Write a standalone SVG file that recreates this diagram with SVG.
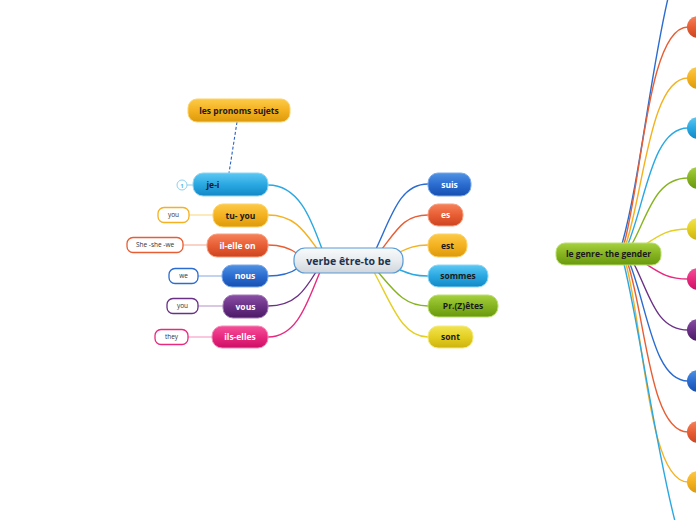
<svg xmlns="http://www.w3.org/2000/svg" width="696" height="520" viewBox="0 0 696 520">
<defs>
<linearGradient id="gBlue" x1="0" y1="0" x2="0" y2="1"><stop offset="0" stop-color="#4f92e2"/><stop offset="0.5" stop-color="#2b6cd0"/><stop offset="1" stop-color="#1550b0"/></linearGradient>
<linearGradient id="gLBlue" x1="0" y1="0" x2="0" y2="1"><stop offset="0" stop-color="#5cc8f2"/><stop offset="0.5" stop-color="#2aa8e2"/><stop offset="1" stop-color="#1288c6"/></linearGradient>
<linearGradient id="gOrange" x1="0" y1="0" x2="0" y2="1"><stop offset="0" stop-color="#fcca48"/><stop offset="0.5" stop-color="#f4b120"/><stop offset="1" stop-color="#dc9a0c"/></linearGradient>
<linearGradient id="gRed" x1="0" y1="0" x2="0" y2="1"><stop offset="0" stop-color="#f6825a"/><stop offset="0.5" stop-color="#e85e34"/><stop offset="1" stop-color="#cc4420"/></linearGradient>
<linearGradient id="gPurple" x1="0" y1="0" x2="0" y2="1"><stop offset="0" stop-color="#8a50a4"/><stop offset="0.5" stop-color="#6a3086"/><stop offset="1" stop-color="#4c1a66"/></linearGradient>
<linearGradient id="gPink" x1="0" y1="0" x2="0" y2="1"><stop offset="0" stop-color="#f4509a"/><stop offset="0.5" stop-color="#e82a7e"/><stop offset="1" stop-color="#cc0e66"/></linearGradient>
<linearGradient id="gGreen" x1="0" y1="0" x2="0" y2="1"><stop offset="0" stop-color="#a6d040"/><stop offset="0.5" stop-color="#86b420"/><stop offset="1" stop-color="#68980e"/></linearGradient>
<linearGradient id="gYellow" x1="0" y1="0" x2="0" y2="1"><stop offset="0" stop-color="#f2e452"/><stop offset="0.5" stop-color="#e4cf22"/><stop offset="1" stop-color="#cdb40e"/></linearGradient>
<linearGradient id="gCenter" x1="0" y1="0" x2="0" y2="1"><stop offset="0" stop-color="#f8fafb"/><stop offset="0.5" stop-color="#e8ecef"/><stop offset="1" stop-color="#cfd6dc"/></linearGradient>
</defs>
<style>
text{font-family:"Open Sans","Liberation Sans",Arial,sans-serif;font-weight:bold;text-anchor:middle}
.n{font-size:8.5px}
.w{fill:#ffffff}
.d{fill:#1a1a1a}
.c{fill:none;stroke-width:1.4}
.s{font-size:6.5px;font-weight:normal;fill:#333}
.bx{fill:#ffffff;stroke-width:1.3}
</style>
<g id="connectors" fill="none">
<!-- left -->
<path class="c" stroke="#2aa8e2" d="M322 249 C312 222 300 185 268 185"/>
<path class="c" stroke="#f4b120" d="M318 250 C305 232 295 215 268 215"/>
<path class="c" stroke="#e85e34" d="M298 254 C290 248 280 245 268 245"/>
<path class="c" stroke="#2b6cd0" d="M298 268 C290 274 280 276 268 276"/>
<path class="c" stroke="#6a3086" d="M316 272 C305 290 295 306 268 306"/>
<path class="c" stroke="#e82a7e" d="M320 272 C308 300 298 337 268 337"/>
<!-- left small boxes -->
<path class="c" stroke="#a8d8f0" d="M187 185 L193 185"/>
<path class="c" stroke="#fbe1a0" d="M189 215 L213 215"/>
<path class="c" stroke="#f6c0ae" d="M183 245 L207 245"/>
<path class="c" stroke="#a8c0e8" d="M198 276 L222 276"/>
<path class="c" stroke="#c8b0d4" d="M198 306 L223 306"/>
<path class="c" stroke="#f6b0d0" d="M188 337 L212 337"/>
<!-- dashed -->
<path fill="none" stroke="#2a62c8" stroke-width="1.1" stroke-dasharray="3,2" d="M237 122 L229 173"/>
<!-- right of center -->
<path class="c" stroke="#2b6cd0" d="M376 249 C392 215 400 184 428 184"/>
<path class="c" stroke="#e85e34" d="M382 249 C398 228 405 215 428 215"/>
<path class="c" stroke="#f4b120" d="M398 253 C408 248 415 245 428 245"/>
<path class="c" stroke="#2aa8e2" d="M400 270 C410 274 415 276 428 276"/>
<path class="c" stroke="#86b420" d="M378 272 C395 292 405 306 428 306"/>
<path class="c" stroke="#e4cf22" d="M374 272 C392 305 402 337 428 337"/>
<!-- gender top -->
<path class="c" stroke="#2b6cd0" d="M622 244 C640 180 652 60 670 -10"/>
<path class="c" stroke="#e85e34" d="M624 244 C642 180 648 27 688 27"/>
<path class="c" stroke="#f4b120" d="M626 244 C644 190 650 78 688 78"/>
<path class="c" stroke="#2aa8e2" d="M628 244 C646 200 652 128 688 128"/>
<path class="c" stroke="#86b420" d="M632 244 C648 215 655 178 688 178"/>
<path class="c" stroke="#e4cf22" d="M646 244 C660 235 668 229 688 229"/>
<!-- gender bottom -->
<path class="c" stroke="#e82a7e" d="M646 264 C660 273 668 279 688 279"/>
<path class="c" stroke="#6a3086" d="M634 264 C650 295 656 330 688 330"/>
<path class="c" stroke="#2b6cd0" d="M630 264 C648 310 654 381 688 381"/>
<path class="c" stroke="#e85e34" d="M628 264 C646 320 650 432 688 432"/>
<path class="c" stroke="#f4b120" d="M626 264 C644 330 648 482 688 482"/>
<path class="c" stroke="#2aa8e2" d="M624 264 C640 330 656 450 676 525"/>
</g>
<g id="center">
<rect x="294" y="248" width="109" height="25" rx="11" fill="url(#gCenter)" stroke="#5a9ad4" stroke-width="1.2"/>
<text x="348.5" y="264.5" font-size="10.5" fill="#1f3350">verbe être-to be</text>
</g>
<g id="pronoms">
<rect x="188" y="99" width="102" height="23" rx="9" fill="url(#gOrange)" stroke="#fcd36a" stroke-width="1"/>
<text class="n d" x="239" y="113.5" font-size="8">les pronoms sujets</text>
</g>
<g id="je">
<rect x="193" y="173" width="75" height="23" rx="10" fill="url(#gLBlue)" stroke="#8ed6f4" stroke-width="1"/>
<text class="n d" x="213" y="188" >je-i</text>
<circle cx="182" cy="185" r="5" fill="#ffffff" stroke="#8ed0f0" stroke-width="1"/>
<text x="182" y="187.5" font-size="6" font-weight="normal" fill="#5ab8e6">1</text>
</g>
<g id="tu">
<rect x="213" y="204" width="55" height="23" rx="10" fill="url(#gOrange)" stroke="#fcd36a" stroke-width="1"/>
<text class="n d" x="240.5" y="218.5">tu- you</text>
<rect class="bx" x="158" y="207.5" width="31" height="15" rx="6" stroke="#f4b120"/>
<text class="s" x="173.5" y="217.3">you</text>
</g>
<g id="il">
<rect x="207" y="234" width="61" height="23" rx="10" fill="url(#gRed)" stroke="#f6a080" stroke-width="1"/>
<text class="n w" x="237.5" y="248.5">il-elle on</text>
<rect class="bx" x="127" y="237.5" width="56" height="15" rx="6" stroke="#e85e34"/>
<text class="s" x="155" y="247.3">She -she -we</text>
</g>
<g id="nous">
<rect x="222" y="265" width="46" height="22" rx="10" fill="url(#gBlue)" stroke="#7aa8ea" stroke-width="1"/>
<text class="n w" x="245" y="279">nous</text>
<rect class="bx" x="169" y="268.5" width="29" height="15" rx="6" stroke="#2b6cd0"/>
<text class="s" x="183.5" y="278.3">we</text>
</g>
<g id="vous">
<rect x="223" y="295" width="45" height="23" rx="10" fill="url(#gPurple)" stroke="#a47ab8" stroke-width="1"/>
<text class="n w" x="245.5" y="309.5">vous</text>
<rect class="bx" x="167" y="298.5" width="31" height="15" rx="6" stroke="#6a3086"/>
<text class="s" x="182.5" y="308.3">you</text>
</g>
<g id="ils">
<rect x="212" y="326" width="56" height="22" rx="10" fill="url(#gPink)" stroke="#f68ab8" stroke-width="1"/>
<text class="n w" x="240" y="340">ils-elles</text>
<rect class="bx" x="155" y="329.5" width="33" height="15" rx="6" stroke="#e82a7e"/>
<text class="s" x="171.5" y="339.3">they</text>
</g>
<g id="suis">
<rect x="428" y="173" width="43" height="23" rx="10" fill="url(#gBlue)" stroke="#7aa8ea" stroke-width="1"/>
<text class="n w" x="449.5" y="187.5">suis</text>
</g>
<g id="es">
<rect x="428" y="204" width="35" height="22" rx="10" fill="url(#gRed)" stroke="#f6a080" stroke-width="1"/>
<text class="n w" x="445.5" y="218">es</text>
</g>
<g id="est">
<rect x="428" y="234" width="39" height="23" rx="10" fill="url(#gOrange)" stroke="#fcd36a" stroke-width="1"/>
<text class="n d" x="447.5" y="248.5">est</text>
</g>
<g id="sommes">
<rect x="428" y="265" width="60" height="22" rx="10" fill="url(#gLBlue)" stroke="#8ed6f4" stroke-width="1"/>
<text class="n d" x="458" y="279">sommes</text>
</g>
<g id="etes">
<rect x="428" y="295" width="70" height="22" rx="10" fill="url(#gGreen)" stroke="#bce070" stroke-width="1"/>
<text class="n d" x="463" y="309">Pr.(Z)êtes</text>
</g>
<g id="sont">
<rect x="428" y="326" width="45" height="22" rx="10" fill="url(#gYellow)" stroke="#f4ea80" stroke-width="1"/>
<text class="n d" x="450.5" y="340">sont</text>
</g>
<g id="genre">
<rect x="556" y="243" width="105" height="22" rx="9" fill="url(#gGreen)" stroke="#bce070" stroke-width="1"/>
<text class="n d" x="608.5" y="257" font-size="8">le genre- the gender</text>
</g>
<g id="g1"><rect x="687" y="16" width="40" height="22" rx="11" fill="url(#gRed)"/></g>
<g id="g2"><rect x="687" y="67" width="40" height="22" rx="11" fill="url(#gOrange)"/></g>
<g id="g3"><rect x="687" y="117" width="40" height="22" rx="11" fill="url(#gLBlue)"/></g>
<g id="g4"><rect x="687" y="167" width="40" height="22" rx="11" fill="url(#gGreen)"/></g>
<g id="g5"><rect x="687" y="218" width="40" height="22" rx="11" fill="url(#gYellow)"/></g>
<g id="g6"><rect x="687" y="268" width="40" height="22" rx="11" fill="url(#gPink)"/></g>
<g id="g7"><rect x="687" y="319" width="40" height="22" rx="11" fill="url(#gPurple)"/></g>
<g id="g8"><rect x="687" y="370" width="40" height="22" rx="11" fill="url(#gBlue)"/></g>
<g id="g9"><rect x="687" y="421" width="40" height="22" rx="11" fill="url(#gRed)"/></g>
<g id="g10"><rect x="687" y="471" width="40" height="22" rx="11" fill="url(#gOrange)"/></g>
</svg>
